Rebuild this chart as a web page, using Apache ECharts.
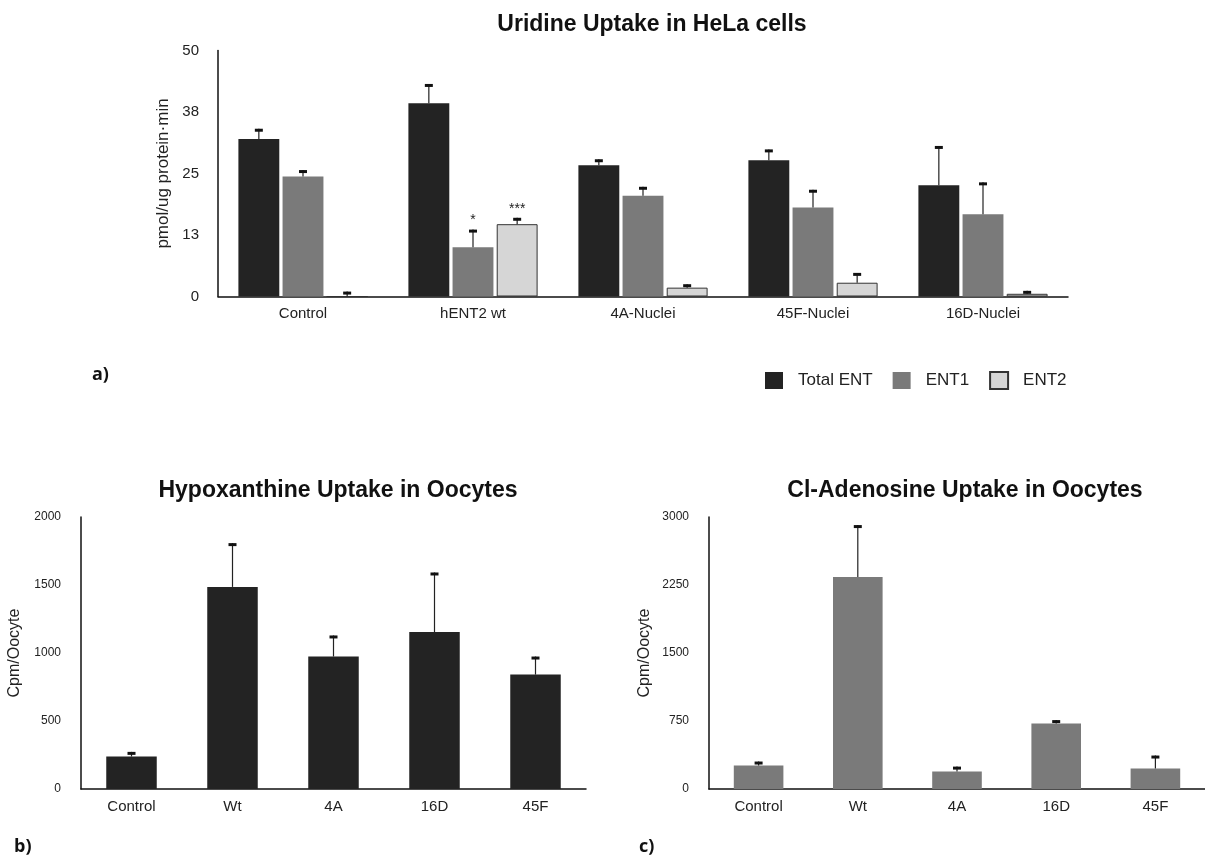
<!DOCTYPE html>
<html>
<head>
<meta charset="utf-8">
<script src="https://cdn.jsdelivr.net/npm/echarts@6/dist/echarts.min.js"></script>
<style>
  html, body { margin: 0; padding: 0; background: #fff; }
  #chart { width: 1205px; height: 860px; }
</style>
</head>
<body>
<div id="chart"></div>
<script>
// ---- Panel a: uridine uptake in HeLa cells ----
const uridineCategories = ['Control', 'hENT2 wt', '4A-Nuclei', '45F-Nuclei', '16D-Nuclei'];
const totalEnt = [32.0, 39.3, 26.7, 27.7, 22.6];
const totalEntSd = [2.1, 3.9, 1.2, 2.2, 8.0];
const ent1 = [24.4, 10.0, 20.5, 18.1, 16.7];
const ent1Sd = [1.3, 3.6, 1.8, 3.6, 6.5];
const ent2 = [0, 14.7, 1.8, 2.8, 0.55];
const ent2Sd = [1.0, 1.3, 0.7, 2.0, 0.6];
const ent1Marks = ['', '*', '', '', ''];
const ent2Marks = ['', '***', '', '', ''];
const uridineTicks = [0, 12.5, 25, 37.5, 50];

// ---- Panel b: hypoxanthine uptake in oocytes ----
const oocyteCategories = ['Control', 'Wt', '4A', '16D', '45F'];
const hypoxanthine = [239, 1486, 974, 1154, 841];
const hypoxanthineSd = [34, 322, 155, 438, 133];

// ---- Panel c: Cl-adenosine uptake in oocytes ----
const clAdenosine = [258, 2339, 192, 723, 225];
const clAdenosineSd = [45, 572, 55, 37, 144];

const FONT = '"Liberation Sans", Arial, Helvetica, sans-serif';
const PANEL_FONT = '"Open Sans", "DejaVu Sans", sans-serif';
const colors = { total: '#232323', ent1: '#7a7a7a', ent2: '#d6d6d6' };

// Upward error whisker with a small solid cap, placed over the n-th bar of a group.
function whisker(slot, count, catGap, barGap, marks) {
  return function (params, api) {
    const ci = api.value(0), v = api.value(1), sd = api.value(2);
    const base = api.coord([ci, v]);
    const top = api.coord([ci, v + sd]);
    const catW = api.size([1, 0])[0];
    const w = catW * (1 - catGap) / (count + (count - 1) * barGap);
    const x = base[0] + (slot - (count - 1) / 2) * w * (1 + barGap);
    const children = [
      { type: 'line', shape: { x1: x, y1: base[1], x2: x, y2: top[1] },
        style: { stroke: '#222', lineWidth: 1.2 } },
      { type: 'rect', shape: { x: x - 4, y: top[1], width: 8, height: 3 },
        style: { fill: '#111' } }
    ];
    const mark = marks ? marks[params.dataIndex] : '';
    if (mark) {
      children.push({ type: 'text',
        style: { text: mark, x: x, y: top[1] - 2, align: 'center', verticalAlign: 'bottom',
                 fontSize: 14, fontFamily: FONT, fill: '#222' } });
    }
    return { type: 'group', children: children };
  };
}

function errData(values, sds) {
  return values.map((v, i) => [i, v, sds[i]]);
}

const axisLine = { show: true, lineStyle: { color: '#111', width: 1.5 } };
const plain = v => String(v);
const titleStyle = { fontFamily: FONT, fontWeight: 'bold', fontSize: 23, color: '#111' };

const option = {
  animation: false,
  backgroundColor: '#fff',
  title: [
    { text: 'Uridine Uptake in HeLa cells', left: 647, top: 8, textAlign: 'center', textStyle: titleStyle },
    { text: 'Hypoxanthine Uptake in Oocytes', left: 333, top: 474, textAlign: 'center', textStyle: titleStyle },
    { text: 'Cl-Adenosine Uptake in Oocytes', left: 960, top: 474, textAlign: 'center', textStyle: titleStyle }
  ],
  legend: {
    left: 760, top: 366, itemWidth: 18, itemHeight: 17, itemGap: 20, icon: 'rect',
    textStyle: { fontFamily: FONT, fontSize: 17, color: '#222', padding: [0, 0, 0, 10] },
    data: ['Total ENT', 'ENT1', 'ENT2']
  },
  graphic: [
    { type: 'text', left: 92, top: 366, style: { text: 'a)', fontFamily: PANEL_FONT, fontWeight: 'bold', fontSize: 18, fill: '#111' } },
    { type: 'text', left: 14, top: 838, style: { text: 'b)', fontFamily: PANEL_FONT, fontWeight: 'bold', fontSize: 18, fill: '#111' } },
    { type: 'text', left: 639, top: 838, style: { text: 'c)', fontFamily: PANEL_FONT, fontWeight: 'bold', fontSize: 18, fill: '#111' } }
  ],
  grid: [
    { left: 218, top: 50.5, width: 850, height: 246 },
    { left: 81, top: 517, width: 505, height: 272 },
    { left: 709, top: 517, width: 504, height: 272 }
  ],
  xAxis: [0, 1, 2].map(g => ({
    type: 'category', gridIndex: g,
    data: g === 0 ? uridineCategories : oocyteCategories,
    axisLine: axisLine, axisTick: { show: false },
    axisLabel: { fontFamily: FONT, fontSize: 15, color: '#222', margin: 10 }
  })),
  yAxis: [
    { type: 'value', gridIndex: 0, min: uridineTicks[0], max: uridineTicks[uridineTicks.length - 1],
      interval: uridineTicks[1] - uridineTicks[0],
      name: 'pmol/ug protein·min', nameLocation: 'middle', nameGap: 42,
      nameTextStyle: { fontFamily: FONT, fontSize: 17, color: '#222' },
      axisLine: axisLine, axisTick: { show: false }, splitLine: { show: false },
      axisLabel: { fontFamily: FONT, fontSize: 15, color: '#222', margin: 19,
                   formatter: v => String(Math.round(v)) } },
    { type: 'value', gridIndex: 1, min: 0, max: 2000, interval: 500,
      name: 'Cpm/Oocyte', nameLocation: 'middle', nameGap: 58,
      nameTextStyle: { fontFamily: FONT, fontSize: 16, color: '#222' },
      axisLine: axisLine, axisTick: { show: false }, splitLine: { show: false },
      axisLabel: { fontFamily: FONT, fontSize: 12, color: '#222', margin: 20, formatter: plain } },
    { type: 'value', gridIndex: 2, min: 0, max: 3000, interval: 750,
      name: 'Cpm/Oocyte', nameLocation: 'middle', nameGap: 56,
      nameTextStyle: { fontFamily: FONT, fontSize: 16, color: '#222' },
      axisLine: axisLine, axisTick: { show: false }, splitLine: { show: false },
      axisLabel: { fontFamily: FONT, fontSize: 12, color: '#222', margin: 20, formatter: plain } }
  ],
  series: [
    { name: 'Total ENT', type: 'bar', xAxisIndex: 0, yAxisIndex: 0, data: totalEnt,
      barCategoryGap: '24%', barGap: '8%', itemStyle: { color: colors.total } },
    { name: 'ENT1', type: 'bar', xAxisIndex: 0, yAxisIndex: 0, data: ent1,
      barCategoryGap: '24%', barGap: '8%', itemStyle: { color: colors.ent1 } },
    { name: 'ENT2', type: 'bar', xAxisIndex: 0, yAxisIndex: 0, data: ent2,
      barCategoryGap: '24%', barGap: '8%',
      itemStyle: { color: colors.ent2, borderColor: '#333', borderWidth: 1 } },
    { type: 'custom', xAxisIndex: 0, yAxisIndex: 0, z: 5, data: errData(totalEnt, totalEntSd),
      renderItem: whisker(0, 3, 0.24, 0.08, null), encode: { x: 0, y: 1 } },
    { type: 'custom', xAxisIndex: 0, yAxisIndex: 0, z: 5, data: errData(ent1, ent1Sd),
      renderItem: whisker(1, 3, 0.24, 0.08, ent1Marks), encode: { x: 0, y: 1 } },
    { type: 'custom', xAxisIndex: 0, yAxisIndex: 0, z: 5, data: errData(ent2, ent2Sd),
      renderItem: whisker(2, 3, 0.24, 0.08, ent2Marks), encode: { x: 0, y: 1 } },

    { name: 'Hypoxanthine', type: 'bar', xAxisIndex: 1, yAxisIndex: 1, data: hypoxanthine,
      barWidth: '50%', itemStyle: { color: colors.total } },
    { type: 'custom', xAxisIndex: 1, yAxisIndex: 1, z: 5, data: errData(hypoxanthine, hypoxanthineSd),
      renderItem: whisker(0, 1, 0.5, 0, null), encode: { x: 0, y: 1 } },

    { name: 'Cl-Adenosine', type: 'bar', xAxisIndex: 2, yAxisIndex: 2, data: clAdenosine,
      barWidth: '50%', itemStyle: { color: colors.ent1 } },
    { type: 'custom', xAxisIndex: 2, yAxisIndex: 2, z: 5, data: errData(clAdenosine, clAdenosineSd),
      renderItem: whisker(0, 1, 0.5, 0, null), encode: { x: 0, y: 1 } }
  ]
};

const chart = echarts.init(document.getElementById('chart'), null, { renderer: 'canvas' });
chart.setOption(option);
</script>
</body>
</html>
